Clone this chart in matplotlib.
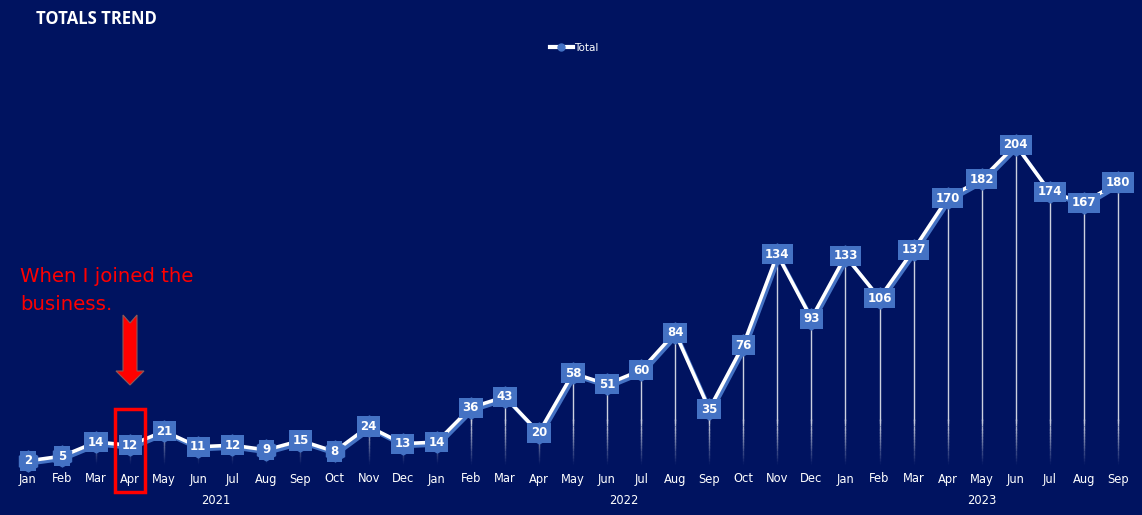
import numpy as np
import matplotlib.pyplot as plt
from matplotlib.collections import LineCollection
from matplotlib.patches import Rectangle, Polygon
from matplotlib.lines import Line2D
import matplotlib.colors as mcolors
import matplotlib.patheffects as pe

# data
months = ["Jan", "Feb", "Mar", "Apr", "May", "Jun", "Jul", "Aug", "Sep", "Oct", "Nov", "Dec"]
totals_2021 = [2, 5, 14, 12, 21, 11, 12, 9, 15, 8, 24, 13]
totals_2022 = [14, 36, 43, 20, 58, 51, 60, 84, 35, 76, 134, 93]
totals_2023 = [133, 106, 137, 170, 182, 204, 174, 167, 180]
years = ["2021", "2022", "2023"]

totals = totals_2021 + totals_2022 + totals_2023
labels = months + months + months[:len(totals_2023)]
x = np.arange(len(totals))

BG = "#001360"
BLUE = "#4472C4"

fig = plt.figure(figsize=(11.42, 5.15), dpi=100)
fig.patch.set_facecolor(BG)
ax = fig.add_axes([0, 0, 1, 1])
ax.set_facecolor(BG)
for s in ax.spines.values():
    s.set_visible(False)
ax.set_xticks([])
ax.set_yticks([])

# pixel mapping of the reference: first point at px 28, step 34.06 px, 1.564 px per unit, zero at 51 px from bottom
step = 34.06
ppu = 1.564
ax.set_xlim(-28 / step, (1142 - 28) / step)
ax.set_ylim(-51 / ppu, (515 - 51) / ppu)

# drop lines fading toward the bottom (opaque colours pre-blended with the background)
bg_rgb = np.array(mcolors.to_rgb(BG))
fade = 28.0


def blend(a):
    return tuple(bg_rgb + (1 - bg_rgb) * a)


segs, cols = [], []
for xi, yi in zip(x, totals):
    top = min(yi, fade)
    if yi > fade:
        segs.append([(xi, fade - 0.5), (xi, yi)])
        cols.append(blend(0.8))
    ys = np.linspace(0, top, 15)
    for a, b in zip(ys[:-1], ys[1:]):
        segs.append([(xi, a), (xi, b + 0.6)])
        cols.append(blend(0.8 * ((a + b) / 2) / fade))
ax.add_collection(LineCollection(segs, colors=cols, linewidths=1.0, capstyle="butt", zorder=1))

# main line with blue shadow
ax.plot(x, totals, color="white", lw=2.6, solid_joinstyle="round", zorder=3,
        path_effects=[pe.SimpleLineShadow(offset=(1.5, -2), shadow_color=BLUE, alpha=1.0),
                      pe.Normal()])
ax.plot(x, totals, ls="none", marker="h", ms=15, color=BLUE, zorder=4)

for xi, yi in zip(x, totals):
    ax.text(xi, yi, str(yi), ha="center", va="center", color="white",
            fontsize=8.5, fontweight="bold", family="DejaVu Sans", zorder=5,
            bbox=dict(boxstyle="square,pad=0.3", fc=BLUE, ec="none"))

# category axis: months and years
tr = ax.get_xaxis_transform()
for xi, lab in zip(x, labels):
    ax.text(xi, 36 / 515, lab, transform=tr, ha="center", va="center",
            color="white", fontsize=8.3)
starts = [0, 12, 24]
ends = [11, 23, len(totals) - 1]
for yr, s0, s1 in zip(years, starts, ends):
    ax.text((s0 + s1) / 2, 14 / 515, yr, transform=tr, ha="center", va="center",
            color="white", fontsize=8.3)

# highlight box around Apr 2021
ax.add_patch(Rectangle((3 - 15 / step, -28 / ppu), 30 / step, 83 / ppu,
                       fill=False, ec="red", lw=2.5, zorder=6))

# annotation
fig.text(20 / 1142, 1 - 277 / 515, "When I joined the", color="red", fontsize=14.2,
         va="center", ha="left", family="DejaVu Sans")
fig.text(20 / 1142, 1 - 305 / 515, "business.", color="red", fontsize=14.2,
         va="center", ha="left", family="DejaVu Sans")
arrow_px = [(123, 315), (130, 323), (137, 315), (137, 371), (144, 371),
            (130, 385), (116, 371), (123, 371)]
arrow = [(px / 1142, 1 - py / 515) for px, py in arrow_px]
fig.add_artist(Polygon(arrow, closed=True, transform=fig.transFigure,
                       fc="red", ec="#8a5a5a", lw=0.8))

# title and legend
fig.text(36 / 1142, 1 - 19 / 515, "TOTALS TREND", color="white", fontsize=12,
         fontweight="bold", va="center", ha="left", family="Open Sans")
handle = Line2D([], [], color="white", lw=3, marker="o", ms=5, mfc=BLUE, mec=BLUE)
fig.legend([handle], ["Total"], loc="center", bbox_to_anchor=(574 / 1142, 1 - 48 / 515),
           frameon=False, fontsize=7.5, labelcolor="white", handlelength=2.2,
           handletextpad=0.1)

fig.savefig("out.png", dpi=100, facecolor=BG)
